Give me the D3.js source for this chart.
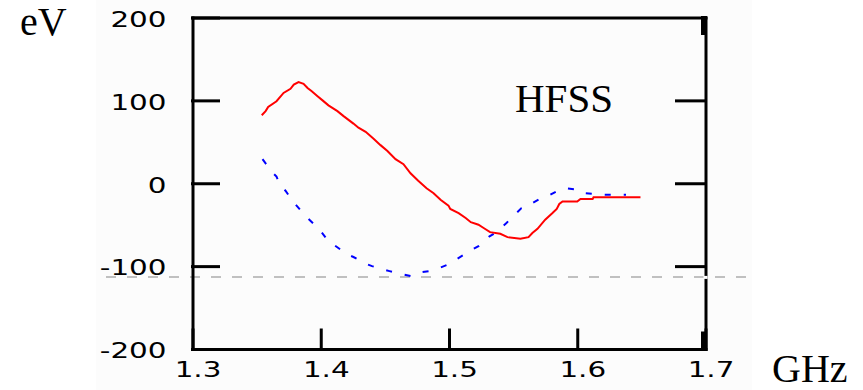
<!DOCTYPE html>
<html>
<head>
<meta charset="utf-8">
<script src="https://cdn.jsdelivr.net/npm/d3@7/dist/d3.min.js"></script>
<style>
  html, body { margin: 0; padding: 0; background: #ffffff; }
  svg { display: block; }
  .tick text { font-family: "DejaVu Sans", sans-serif; font-size: 21px; fill: #000; }
  .serif { font-family: "Liberation Serif", "Times New Roman", serif; fill: #000; }
</style>
</head>
<body>
<svg id="chart" width="863" height="390"></svg>
<script>
// Frequency (GHz) and energy (eV) samples of the two traces
const redFreq = [1.354, 1.357, 1.359, 1.3655, 1.371, 1.3764, 1.379, 1.3827, 1.3866, 1.3897, 1.393, 1.3975, 1.4014,
  1.406, 1.413, 1.4178, 1.4255, 1.4294, 1.435, 1.441, 1.4466, 1.452, 1.4583, 1.4645, 1.47, 1.476, 1.4825, 1.488,
  1.4934, 1.4996, 1.501, 1.5075, 1.513, 1.517, 1.523, 1.527, 1.532, 1.540, 1.5456, 1.5557, 1.562, 1.565, 1.569,
  1.575, 1.5807, 1.584, 1.586, 1.5885, 1.600, 1.6025, 1.612, 1.6127, 1.6493];
const redEV = [82, 87, 92, 99, 109, 114, 119, 122, 120, 115, 111, 105, 100,
  94, 87, 81, 72, 67, 62, 54, 46, 39, 29, 23, 12, 3, -6, -12,
  -20, -27, -31, -36, -42, -47, -50, -54, -59, -61, -65, -67, -65, -60, -55,
  -44, -36, -31, -25, -22, -22, -19, -19, -17, -17];

const blueFreq = [1.3546, 1.357, 1.363, 1.3655, 1.3686, 1.3725, 1.3788, 1.3873, 1.3897, 1.398, 1.4006, 1.406,
  1.409, 1.419, 1.4224, 1.4255, 1.4364, 1.440, 1.4536, 1.458, 1.470, 1.4747, 1.485, 1.4895, 1.501, 1.5066,
  1.518, 1.523, 1.5316, 1.537, 1.5448, 1.548, 1.5565, 1.559, 1.5706, 1.575, 1.586, 1.590, 1.6025, 1.606,
  1.621, 1.638];
const blueEV = [29, 24, 12, 8, -3, -9, -23, -38, -42, -54, -59, -70,
  -73, -84, -87, -89, -98, -100, -106, -108, -112, -108, -106, -104, -97, -91,
  -80, -76, -64, -59, -48, -43, -30, -29, -19, -17, -8, -6, -8, -12,
  -14, -14];

// Axis tick values and reference level
const xTicks = [1.3, 1.4, 1.5, 1.6, 1.7];
const yTicks = [-200, -100, 0, 100, 200];
const refLevel = [-113];

const svg = d3.select("#chart");

const x = d3.scaleLinear().domain([1.3, 1.7]).range([192.5, 705.5]);
const y = d3.scaleLinear().domain([-200, 200]).range([349, 17.5]);

// faint panel behind the plot
svg.append("rect").attr("x", 96).attr("y", 0).attr("width", 656).attr("height", 390).attr("fill", "#fcfcfc");

// dashed reference line
svg.append("line")
  .attr("x1", 106).attr("x2", 748)
  .attr("y1", y(refLevel[0])).attr("y2", y(refLevel[0]))
  .attr("stroke", "#c0c0c0").attr("stroke-width", 2)
  .attr("stroke-dasharray", "10,11");

// frame: top edge
svg.append("g").attr("transform", `translate(0,${y(200)})`)
  .call(d3.axisTop(x).tickValues([]).tickSizeOuter(0));

// left axis with inward ticks
const left = svg.append("g").attr("class", "yl").attr("transform", `translate(${x(1.3)},0)`)
  .call(d3.axisLeft(y).tickValues(yTicks).tickSizeInner(-26).tickSizeOuter(0).tickPadding(26)
    .tickFormat(d => String(d)));
left.selectAll(".tick text").attr("dy", "0.42em");

// right axis, ticks only
svg.append("g").attr("transform", `translate(${x(1.7)},0)`)
  .call(d3.axisRight(y).tickValues([-100, 0, 100]).tickSizeInner(-29).tickSizeOuter(0).tickFormat(""));

// bottom axis with inward ticks
const bottom = svg.append("g").attr("class", "xb").attr("transform", `translate(0,${y(-200)})`)
  .call(d3.axisBottom(x).tickValues(xTicks).tickSizeInner(-19).tickSizeOuter(0).tickPadding(13)
    .tickFormat(d3.format(".1f")));
bottom.selectAll(".tick text").attr("dx", 5);

svg.selectAll(".domain, .tick line").attr("stroke", "#000").attr("stroke-width", 3)
  .attr("stroke-linecap", "square");

// widen the tick labels
svg.selectAll(".tick text").each(function () {
  const len = this.getComputedTextLength();
  if (len > 0) d3.select(this).attr("textLength", len * 1.4).attr("lengthAdjust", "spacingAndGlyphs");
});

// heavy corner marks on the right edge
svg.append("rect").attr("x", x(1.7) - 4.5).attr("y", y(200) - 1.5).attr("width", 6).attr("height", 19).attr("fill", "#000");
svg.append("rect").attr("x", x(1.7) - 4.5).attr("y", y(-200) - 17.5).attr("width", 6).attr("height", 19).attr("fill", "#000");
// gap where the reference line crosses the right edge
svg.append("rect").attr("x", x(1.7) - 2).attr("y", y(refLevel[0]) - 1).attr("width", 4).attr("height", 3).attr("fill", "#fff");

const line = d3.line().x(d => x(d[0])).y(d => y(d[1]));

// blue trace, dotted
svg.append("path")
  .datum(d3.zip(blueFreq, blueEV))
  .attr("d", line)
  .attr("fill", "none").attr("stroke", "#0000ff").attr("stroke-width", 2)
  .attr("stroke-dasharray", "6,13");

// red trace, solid
svg.append("path")
  .datum(d3.zip(redFreq, redEV))
  .attr("d", line)
  .attr("fill", "none").attr("stroke", "#ff0000").attr("stroke-width", 2);

// unit labels and annotation
svg.append("text").attr("class", "serif").attr("x", 20).attr("y", 35).attr("font-size", 40).text("eV");
svg.append("text").attr("class", "serif").attr("x", 772).attr("y", 382).attr("font-size", 40).text("GHz");
svg.append("text").attr("class", "serif").attr("x", 515).attr("y", 112).attr("font-size", 41).text("HFSS");
</script>
</body>
</html>
